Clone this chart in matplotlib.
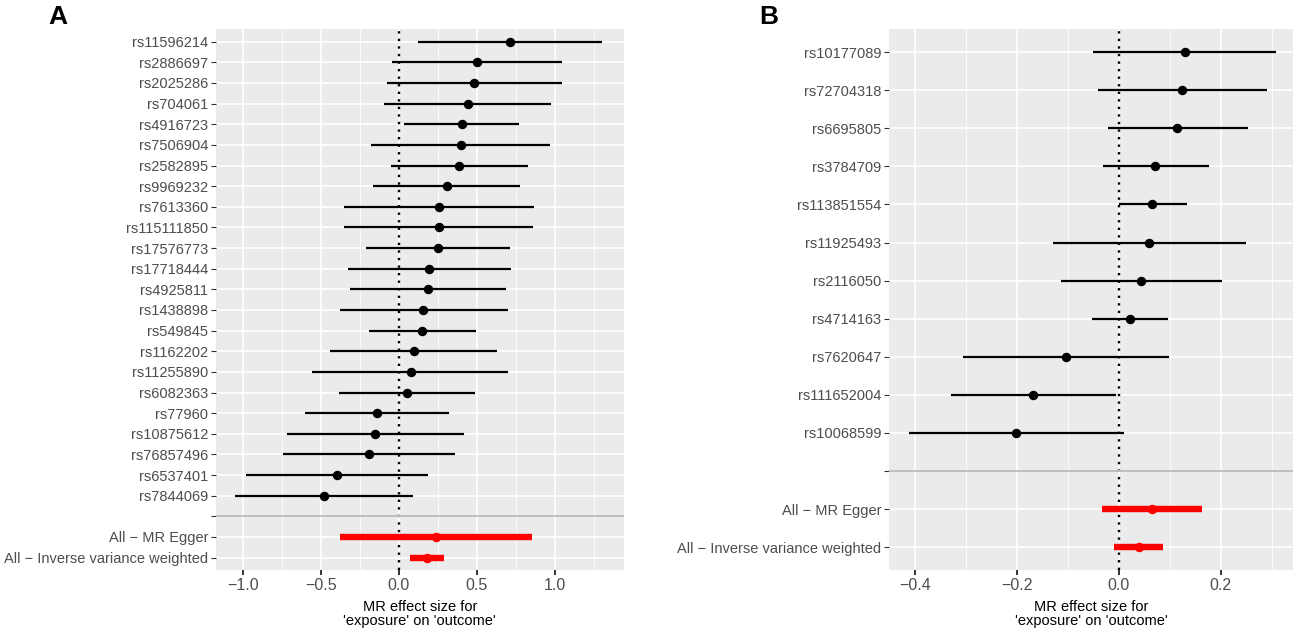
"""MR forest plots, two panels."""

import matplotlib

matplotlib.use("Agg")
import matplotlib.pyplot as plt
import numpy as np

plt.rcParams["font.family"] = ["Liberation Sans", "DejaVu Sans"]

# panel A - single SNP estimates (top to bottom)
snps_a = ["rs11596214", "rs2886697", "rs2025286", "rs704061", "rs4916723", "rs7506904",
          "rs2582895", "rs9969232", "rs7613360", "rs115111850", "rs17576773", "rs17718444",
          "rs4925811", "rs1438898", "rs549845", "rs1162202", "rs11255890", "rs6082363",
          "rs77960", "rs10875612", "rs76857496", "rs6537401", "rs7844069"]
b_a = [0.714, 0.499, 0.484, 0.442, 0.403, 0.397, 0.390, 0.311, 0.259, 0.256, 0.251, 0.196,
       0.186, 0.159, 0.152, 0.097, 0.076, 0.055, -0.139, -0.149, -0.188, -0.395, -0.481]
lo_a = [0.125, -0.044, -0.076, -0.092, 0.034, -0.175, -0.050, -0.162, -0.348, -0.350, -0.209,
        -0.327, -0.314, -0.376, -0.193, -0.437, -0.557, -0.384, -0.601, -0.714, -0.740,
        -0.978, -1.046]
hi_a = [1.302, 1.046, 1.046, 0.975, 0.771, 0.967, 0.831, 0.779, 0.868, 0.863, 0.711, 0.722,
        0.688, 0.698, 0.497, 0.630, 0.703, 0.492, 0.322, 0.416, 0.363, 0.188, 0.092]

# panel B - single SNP estimates (top to bottom)
snps_b = ["rs10177089", "rs72704318", "rs6695805", "rs3784709", "rs113851554", "rs11925493",
          "rs2116050", "rs4714163", "rs7620647", "rs111652004", "rs10068599"]
b_b = [0.130, 0.124, 0.115, 0.071, 0.066, 0.059, 0.043, 0.022, -0.104, -0.168, -0.201]
lo_b = [-0.051, -0.041, -0.022, -0.030, 0.000, -0.130, -0.113, -0.052, -0.305, -0.330, -0.412]
hi_b = [0.308, 0.290, 0.254, 0.177, 0.134, 0.250, 0.202, 0.096, 0.099, -0.006, 0.011]

# summary estimates: MR Egger, IVW
methods = ["All \u2212 MR Egger", "All \u2212 Inverse variance weighted"]
sum_b_a = [0.238, 0.183]
sum_lo_a = [-0.379, 0.071]
sum_hi_a = [0.852, 0.293]
sum_b_b = [0.066, 0.039]
sum_lo_b = [-0.032, -0.009]
sum_hi_b = [0.164, 0.087]

BG = "#EBEBEB"
GRID = "white"
TXT = "#4D4D4D"


def forest(ax, snps, b, lo, hi, sb, slo, shi, xlim, major, minor):
    n = len(snps)
    labels = list(snps) + [""] + methods
    ypos = np.arange(len(labels), 0, -1)  # top row highest
    y_snp = ypos[:n]
    y_sep = ypos[n]
    y_sum = ypos[n + 1:]

    ax.set_facecolor(BG)
    for s in ax.spines.values():
        s.set_visible(False)
    ax.set_xlim(*xlim)
    ax.set_ylim(0.4, len(labels) + 0.6)
    ax.set_xticks(major)
    ax.set_xticks(minor, minor=True)
    ax.set_xticklabels([f"{v:.1f}".replace("-", "\u2212") for v in major])
    ax.set_yticks(ypos)
    ax.set_yticklabels(labels)

    ax.grid(True, which="major", color=GRID, linewidth=1.2, zorder=0)
    ax.grid(True, which="minor", axis="x", color=GRID, linewidth=0.6, zorder=0)
    ax.set_axisbelow(True)

    ax.axvline(0, color="black", linestyle=(0, (1, 2.2)), linewidth=1.7, zorder=2)
    ax.hlines(y_snp, lo, hi, color="black", linewidth=1.6, zorder=3)
    ax.plot(b, y_snp, "o", color="black", markersize=5.8, zorder=4)
    ax.hlines(y_sum, slo, shi, color="red", linewidth=4.6, zorder=3)
    ax.plot(sb, y_sum, "o", color="red", markersize=5.8, zorder=4)
    ax.axhline(y_sep, color="#BEBEBE", linewidth=1.4, zorder=2)

    ax.tick_params(axis="y", which="major", length=3.5, width=0.8, color="#333333",
                   labelsize=10.5, labelcolor=TXT, pad=2)
    ax.tick_params(axis="x", which="major", length=3.5, width=1.4, color="#333333",
                   labelsize=11.5, labelcolor=TXT, pad=2)
    ax.tick_params(axis="x", which="minor", length=0)
    ax.set_xlabel("MR effect size for\n'exposure' on 'outcome'", fontsize=10.5,
                  color="black", labelpad=5, linespacing=1.05)


fig = plt.figure(figsize=(12.99, 6.33), dpi=100)
ax_a = fig.add_axes([216 / 1299, 63 / 633, 407.6 / 1299, 540.7 / 633])
ax_b = fig.add_axes([889 / 1299, 63 / 633, 404 / 1299, 540.7 / 633])

forest(ax_a, snps_a, b_a, lo_a, hi_a, sum_b_a, sum_lo_a, sum_hi_a,
       (-1.171, 1.442), [-1.0, -0.5, 0.0, 0.5, 1.0], [-0.75, -0.25, 0.25, 0.75, 1.25])
forest(ax_b, snps_b, b_b, lo_b, hi_b, sum_b_b, sum_lo_b, sum_hi_b,
       (-0.451, 0.342), [-0.4, -0.2, 0.0, 0.2], [-0.3, -0.1, 0.1, 0.3])

fig.text(58 / 1299, 1 - 17 / 633, "A", fontsize=19, fontweight="bold", ha="center", va="center")
fig.text(769 / 1299, 1 - 16.5 / 633, "B", fontsize=19, fontweight="bold", ha="center", va="center")

fig.savefig("out.png", dpi=100)
plt.close(fig)
